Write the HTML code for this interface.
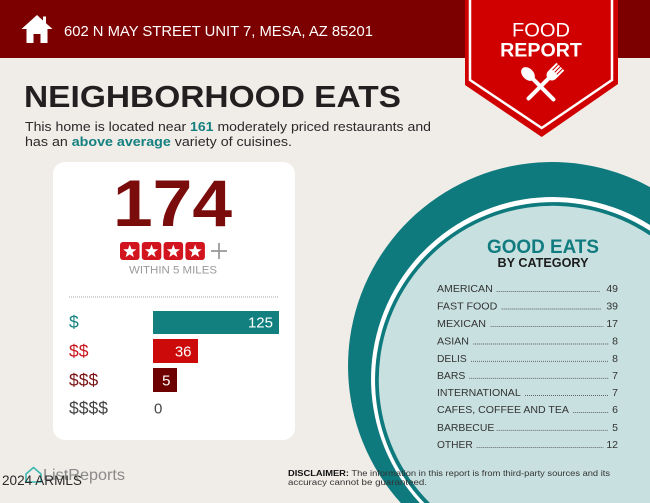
<!DOCTYPE html>
<html>
<head>
<meta charset="utf-8">
<style>
html,body{margin:0;padding:0;background:#f0ece8;width:650px;height:503px;overflow:hidden;}
#wrap{position:relative;width:650px;height:503px;overflow:hidden;}
svg{display:block;position:absolute;left:0;top:0}
text{font-family:"Liberation Sans",Arial,sans-serif}
</style>
</head>
<body>
<div id="wrap">
<svg width="650" height="503" viewBox="0 0 650 503" xmlns="http://www.w3.org/2000/svg" overflow="hidden">
<defs>
  <path id="star" d="M0,-7 L1.705,-2.346 L6.657,-2.163 L2.758,0.896 L4.114,5.663 L0,2.9 L-4.114,5.663 L-2.758,0.896 L-6.657,-2.163 L-1.705,-2.346 Z" fill="#fff"/>
</defs>
<rect width="650" height="503" fill="#f0ece8"/>

<!-- header band -->
<rect x="0" y="0" width="650" height="58" fill="#7c0000"/>
<path d="M37 15 L21.5 29 L26.5 29 L26.5 43 L33.5 43 L33.5 34 L40.5 34 L40.5 43 L47.5 43 L47.5 29 L52.5 29 L46 23.2 L46 16.5 L43 16.5 L43 20.5 Z" fill="#fff"/>
<text x="64" y="36" font-size="15" fill="#fff" textLength="309" lengthAdjust="spacingAndGlyphs">602 N MAY STREET UNIT 7, MESA, AZ 85201</text>

<!-- food report banner -->
<polygon points="465,0 618,0 618,84 541.7,137 465,85" fill="#d10000"/>
<polyline points="470,0 470,80 541.7,128 612,80 612,0" fill="none" stroke="#fff" stroke-width="2.5"/>
<text x="541" y="36.7" font-size="19.5" fill="#fff" text-anchor="middle" textLength="58" lengthAdjust="spacingAndGlyphs">FOOD</text>
<text x="541" y="56.7" font-size="19.5" font-weight="bold" fill="#fff" text-anchor="middle" textLength="81.7" lengthAdjust="spacingAndGlyphs">REPORT</text>
<g transform="translate(528,74) rotate(-45)" fill="#fff">
  <ellipse cx="0" cy="0" rx="5.5" ry="8"/>
  <rect x="-2" y="5" width="4" height="33" rx="2"/>
</g>
<g transform="translate(554,73) rotate(45)" fill="#fff">
  <rect x="-5.5" y="-9" width="2" height="9"/>
  <rect x="-2.5" y="-9" width="2" height="9"/>
  <rect x="0.5" y="-9" width="2" height="9"/>
  <rect x="3.5" y="-9" width="2" height="9"/>
  <path d="M-5.5,-1 L5.5,-1 L5.5,2 Q5.5,7 1.5,8 L-1.5,8 Q-5.5,7 -5.5,2 Z"/>
  <rect x="-2" y="6" width="4" height="32" rx="2"/>
</g>

<!-- title -->
<text x="24" y="107" font-size="31" font-weight="bold" fill="#231f20" textLength="377" lengthAdjust="spacingAndGlyphs">NEIGHBORHOOD EATS</text>
<text x="25" y="131" font-size="13" fill="#2a2a2a" textLength="406" lengthAdjust="spacingAndGlyphs">This home is located near <tspan font-weight="bold" fill="#13807f">161</tspan> moderately priced restaurants and</text>
<text x="25" y="146" font-size="13" fill="#2a2a2a" textLength="267" lengthAdjust="spacingAndGlyphs">has an <tspan font-weight="bold" fill="#13807f">above average</tspan> variety of cuisines.</text>

<!-- card -->
<rect x="53" y="162" width="242" height="278" rx="12" fill="#fff"/>
<text x="172.5" y="226" font-size="66" font-weight="bold" fill="#7b0c0c" text-anchor="middle" textLength="119" lengthAdjust="spacingAndGlyphs">174</text>
<g>
  <rect x="120" y="242" width="19.5" height="18" rx="3" fill="#d2141e"/>
  <rect x="141.8" y="242" width="19.5" height="18" rx="3" fill="#d2141e"/>
  <rect x="163.6" y="242" width="19.5" height="18" rx="3" fill="#d2141e"/>
  <rect x="185.4" y="242" width="19.5" height="18" rx="3" fill="#d2141e"/>
  <use href="#star" transform="translate(129.75,251.5)"/>
  <use href="#star" transform="translate(151.55,251.5)"/>
  <use href="#star" transform="translate(173.35,251.5)"/>
  <use href="#star" transform="translate(195.15,251.5)"/>
</g>
<line x1="211" y1="251" x2="227" y2="251" stroke="#9a9a9a" stroke-width="1.8"/>
<line x1="219" y1="243" x2="219" y2="259" stroke="#9a9a9a" stroke-width="1.8"/>
<text x="173" y="273.5" font-size="11" fill="#9a9a9a" text-anchor="middle" textLength="88" lengthAdjust="spacingAndGlyphs">WITHIN 5 MILES</text>
<line x1="69" y1="297" x2="279" y2="297" stroke="#aaa" stroke-width="1" stroke-dasharray="1 1"/>

<!-- price bars -->
<text x="69" y="328" font-size="17.5" fill="#168080">$</text>
<rect x="153" y="311" width="126" height="23" fill="#138080"/>
<text x="273" y="327.5" font-size="15" fill="#fff" text-anchor="end">125</text>

<text x="69" y="357" font-size="17.5" fill="#c8161e">$$</text>
<rect x="153" y="339" width="45" height="24" fill="#cc0a0a"/>
<text x="191.5" y="356.5" font-size="15" fill="#fff" text-anchor="end">36</text>

<text x="69" y="386" font-size="17.5" fill="#7a1414">$$$</text>
<rect x="153" y="368" width="24" height="24" fill="#6e0000"/>
<text x="170.5" y="385.5" font-size="15" fill="#fff" text-anchor="end">5</text>

<text x="69" y="414" font-size="17.5" fill="#444">$$$$</text>
<text x="154" y="413.5" font-size="15" fill="#444">0</text>

<!-- circle (clipped to frame as paths) -->
<path d="M650,187.1 A204,204 0 0 0 400.85,503 L650,503 Z" fill="#0e7a7d"/>
<path d="M650,225 A182,182 0 0 0 419.8,503 L650,503 Z" fill="#fff"/>
<path d="M650,230.8 A178,178 0 0 0 424.3,503 L650,503 Z" fill="#0e7a7d"/>
<path d="M650,235.5 A174,174 0 0 0 429.9,503 L650,503 Z" fill="#c8e0df"/>

<text x="543" y="253" font-size="19" font-weight="bold" fill="#117c7f" text-anchor="middle" textLength="112" lengthAdjust="spacingAndGlyphs">GOOD EATS</text>
<text x="543" y="267" font-size="12.5" font-weight="bold" fill="#1c1c1c" text-anchor="middle" textLength="91" lengthAdjust="spacingAndGlyphs">BY CATEGORY</text>

<g font-size="10.5" fill="#333">
  <text x="437" y="292.1" textLength="55.7" lengthAdjust="spacingAndGlyphs">AMERICAN</text>
  <text x="618" y="292.1" text-anchor="end">49</text>
  <text x="437" y="309.5" textLength="60.3" lengthAdjust="spacingAndGlyphs">FAST FOOD</text>
  <text x="618" y="309.5" text-anchor="end">39</text>
  <text x="437" y="327.1" textLength="49" lengthAdjust="spacingAndGlyphs">MEXICAN</text>
  <text x="618" y="327.1" text-anchor="end">17</text>
  <text x="437" y="344.5" textLength="32" lengthAdjust="spacingAndGlyphs">ASIAN</text>
  <text x="618" y="344.5" text-anchor="end">8</text>
  <text x="437" y="361.8" textLength="29.7" lengthAdjust="spacingAndGlyphs">DELIS</text>
  <text x="618" y="361.8" text-anchor="end">8</text>
  <text x="437" y="378.8" textLength="28.3" lengthAdjust="spacingAndGlyphs">BARS</text>
  <text x="618" y="378.8" text-anchor="end">7</text>
  <text x="437" y="396.1" textLength="83.7" lengthAdjust="spacingAndGlyphs">INTERNATIONAL</text>
  <text x="618" y="396.1" text-anchor="end">7</text>
  <text x="437" y="413.1" textLength="132" lengthAdjust="spacingAndGlyphs">CAFES, COFFEE AND TEA</text>
  <text x="618" y="413.1" text-anchor="end">6</text>
  <text x="437" y="430.8" textLength="57.3" lengthAdjust="spacingAndGlyphs">BARBECUE</text>
  <text x="618" y="430.8" text-anchor="end">5</text>
  <text x="437" y="448.1" textLength="35.7" lengthAdjust="spacingAndGlyphs">OTHER</text>
  <text x="618" y="448.1" text-anchor="end">12</text>
</g>
<g stroke="#444" stroke-width="0.9" stroke-dasharray="0.9 1.1">
  <line x1="496.7" y1="291.6" x2="600.7" y2="291.6"/>
  <line x1="501.7" y1="309" x2="601" y2="309"/>
  <line x1="490.7" y1="326.6" x2="603.3" y2="326.6"/>
  <line x1="473.3" y1="344" x2="608.3" y2="344"/>
  <line x1="471" y1="361.3" x2="608.3" y2="361.3"/>
  <line x1="469.3" y1="378.3" x2="608.3" y2="378.3"/>
  <line x1="525" y1="395.6" x2="608.3" y2="395.6"/>
  <line x1="573.3" y1="412.6" x2="608.3" y2="412.6"/>
  <line x1="496.7" y1="430.3" x2="608.3" y2="430.3"/>
  <line x1="476.7" y1="447.6" x2="603.3" y2="447.6"/>
</g>

<!-- disclaimer -->
<text x="288" y="476" font-size="8.7" fill="#333" textLength="322" lengthAdjust="spacingAndGlyphs"><tspan font-weight="bold" fill="#111">DISCLAIMER:</tspan> The information in this report is from third-party sources and its</text>
<text x="288" y="485" font-size="8.7" fill="#333" textLength="139" lengthAdjust="spacingAndGlyphs">accuracy cannot be guaranteed.</text>

<!-- logo -->
<path d="M26 474 L33.5 467.5 L41 474 L41 482 L26 482 Z" fill="none" stroke="#3cb8b0" stroke-width="1.6" stroke-linejoin="round"/>
<text x="43" y="480" font-size="16" fill="#8a8a8a" textLength="82" lengthAdjust="spacingAndGlyphs">ListReports</text>
<text x="2" y="485" font-size="13.5" fill="#2a2a2a" textLength="80" lengthAdjust="spacingAndGlyphs">2024 ARMLS</text>
</svg>
</div>
</body>
</html>
